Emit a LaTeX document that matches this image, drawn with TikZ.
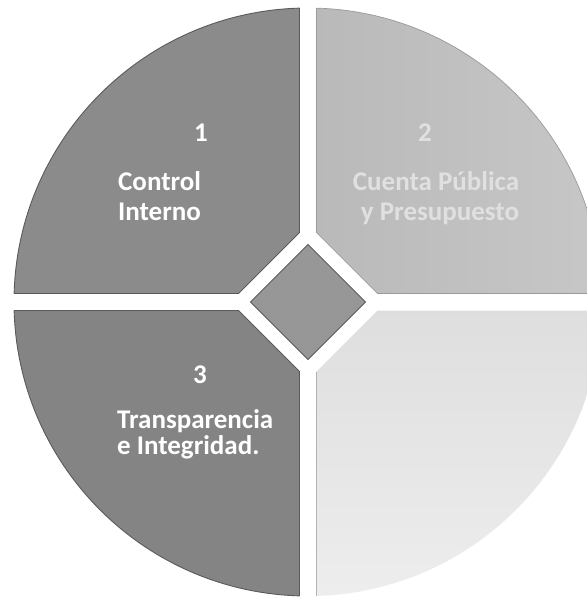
\documentclass[tikz,border=0pt]{standalone}
\usepackage{fontspec}
\setmainfont{Carlito}
\definecolor{qone}{HTML}{8B8B8B}
\definecolor{qthree}{HTML}{848484}
\definecolor{diam}{HTML}{979797}
\definecolor{edgedark}{HTML}{5A5A5A}
\definecolor{edgelight}{HTML}{9A9A9A}
\begin{document}
\begin{tikzpicture}[x=1pt,y=-1pt,
  txt/.style={text=white, font=\bfseries\fontsize{27}{30}\selectfont, inner sep=0pt},
  txtfaint/.style={text=white!88!black, font=\bfseries\fontsize{27}{30}\selectfont, inner sep=0pt},
  darkedge/.style={draw=edgedark, line width=0.9pt},
  lightedge/.style={draw=edgelight, line width=0.7pt}]
\useasboundingbox (0,0) rectangle (587,598);
\fill[white] (0,0) rectangle (587,598);
\begin{scope}[shift={(308,302)}]
  % quadrant 1 (top-left)
  \begin{scope}
    \clip (-8.5,-69.5) -- (-8.5,-400) -- (-400,-400) -- (-400,-8.5) -- (-69.5,-8.5) -- cycle;
    \fill[qone] (0,0) circle (294pt);
    \draw[darkedge] (0,0) circle (294pt);
  \end{scope}
  \begin{scope}
    \clip (0,0) circle (294pt);
    \draw[darkedge] (-8.5,-69.5) -- (-8.5,-400) (-400,-8.5) -- (-69.5,-8.5) -- (-8.5,-69.5);
  \end{scope}
  % quadrant 2 (top-right)
  \begin{scope}
    \clip (8.5,-69.5) -- (8.5,-400) -- (400,-400) -- (400,-8.5) -- (69.5,-8.5) -- cycle;
    \shade[left color=black!33, middle color=black!31, right color=black!22] (0,0) circle (294pt);
    \draw[lightedge] (0,0) circle (294pt);
  \end{scope}
  \begin{scope}
    \clip (0,0) circle (294pt);
    \draw[lightedge] (8.5,-69.5) -- (8.5,-400) (400,-8.5) -- (69.5,-8.5) -- (8.5,-69.5);
  \end{scope}
  % quadrant 3 (bottom-left)
  \begin{scope}
    \clip (-8.5,69.5) -- (-8.5,400) -- (-400,400) -- (-400,8.5) -- (-69.5,8.5) -- cycle;
    \fill[qthree] (0,0) circle (294pt);
    \draw[darkedge] (0,0) circle (294pt);
  \end{scope}
  \begin{scope}
    \clip (0,0) circle (294pt);
    \draw[darkedge] (-8.5,69.5) -- (-8.5,400) (-400,8.5) -- (-69.5,8.5) -- (-8.5,69.5);
  \end{scope}
  % quadrant 4 (bottom-right)
  \begin{scope}
    \clip (8.5,69.5) -- (8.5,400) -- (400,400) -- (400,8.5) -- (69.5,8.5) -- cycle;
    \shade[top color=black!19, bottom color=black!7] (0,0) circle (294pt);
  \end{scope}
  \begin{scope}
    \clip (0,0) circle (294pt);
    \draw[lightedge, draw=black!30] (8.5,69.5) -- (8.5,400);
  \end{scope}
  % centre diamond
  \fill[diam, draw=edgedark, line width=0.8pt] (0,-57.5) -- (57.5,0) -- (0,57.5) -- (-57.5,0) -- cycle;
\end{scope}
% labels
\node[txt, anchor=base] (n1) at (201,141) {1};
\node[txt, anchor=base west] (c1a) at (118,190) {Control};
\node[txt, anchor=base west] (c1b) at (118,220) {Interno};
\node[txtfaint, anchor=base] (n2) at (425,141) {2};
\node[txtfaint, anchor=base] (c2a) at (436,190) {Cuenta Pública};
\node[txtfaint, anchor=base] (c2b) at (440,220) {y Presupuesto};
\node[txt, anchor=base] (n3) at (200,383) {3};
\node[txt, anchor=base west] (c3a) at (117,428) {Transparencia};
\node[txt, anchor=base west] (c3b) at (117,454) {e Integridad.};
\end{tikzpicture}
\end{document}
